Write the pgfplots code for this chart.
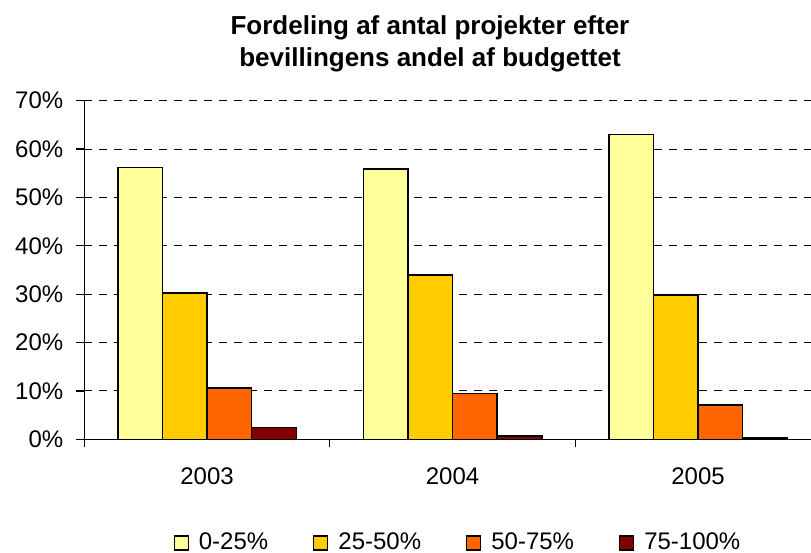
\documentclass[border=0pt]{standalone}
\usepackage{fontspec}
\setmainfont{Liberation Sans}
\usepackage{pgfplots}
\pgfplotsset{compat=1.18}

\definecolor{lowshare}{HTML}{FFFF99}
\definecolor{midshare}{HTML}{FFCC00}
\definecolor{highshare}{HTML}{FF6600}
\definecolor{topshare}{HTML}{800000}

\begin{document}
\begin{tikzpicture}
  \begin{axis}[
    scale only axis,
    width=363.35pt, height=169.3pt,
    xmin=-0.5, xmax=2.46,
    ymin=0, ymax=70,
    axis x line=bottom, axis y line=left,
    axis line style={-, line width=0.6pt},
    tick align=outside,
    tick style={black, line width=0.6pt},
    /pgf/number format/assume math mode=true,
    ticklabel style={font=\fontsize{12}{14}\selectfont},
    ytick={0,10,...,70},
    yticklabel={\pgfmathprintnumber{\tick}\%},
    yticklabel style={xshift=-3pt},
    xtick={0,1,2},
    xticklabels={2003,2004,2005},
    xticklabel style={yshift=-6.5pt},
    xtick style={/pgfplots/major tick length=0pt},
    extra x ticks={-0.5,0.5,1.5},
    extra x tick labels={},
    extra x tick style={grid=none, xtick style={/pgfplots/major tick length=4pt}},
    major tick length=4pt,
    ymajorgrids=true,
    grid style={black, dash pattern=on 4pt off 3.5pt, line width=0.5pt},
    ybar=0pt,
    bar width=22.3pt,
    title={Fordeling af antal projekter efter\\bevillingens andel af budgettet},
    title style={font=\bfseries\fontsize{13}{16}\selectfont, align=center,
      at={(0.4757,1.132)}, anchor=center},
    legend columns=4,
    legend style={draw=none, at={(0.5156,-0.306)}, anchor=center,
      font=\fontsize{12}{14}\selectfont,
      /tikz/every odd column/.append style={column sep=3pt},
      /tikz/every even column/.append style={column sep=20.5pt}},
    legend image code/.code={\draw[#1, line width=0.6pt] (0pt,-3.5pt) rectangle (7pt,3.5pt);},
  ]
    \addplot[draw=black, line width=0.75pt, fill=lowshare] coordinates {(0,56.2) (1,55.9) (2,63.0)};
    \addplot[draw=black, line width=0.75pt, fill=midshare] coordinates {(0,30.2) (1,34.0) (2,29.8)};
    \addplot[draw=black, line width=0.75pt, fill=highshare] coordinates {(0,10.6) (1,9.5) (2,7.1)};
    \addplot[draw=black, line width=0.75pt, fill=topshare] coordinates {(0,2.4) (1,0.7) (2,0.3)};
    \legend{0-25\%, 25-50\%, 50-75\%, 75-100\%}
  \end{axis}
  \pgfresetboundingbox
  \path (-42.15pt,-56.85pt) rectangle (363.35pt,219.65pt);
\end{tikzpicture}
\end{document}
